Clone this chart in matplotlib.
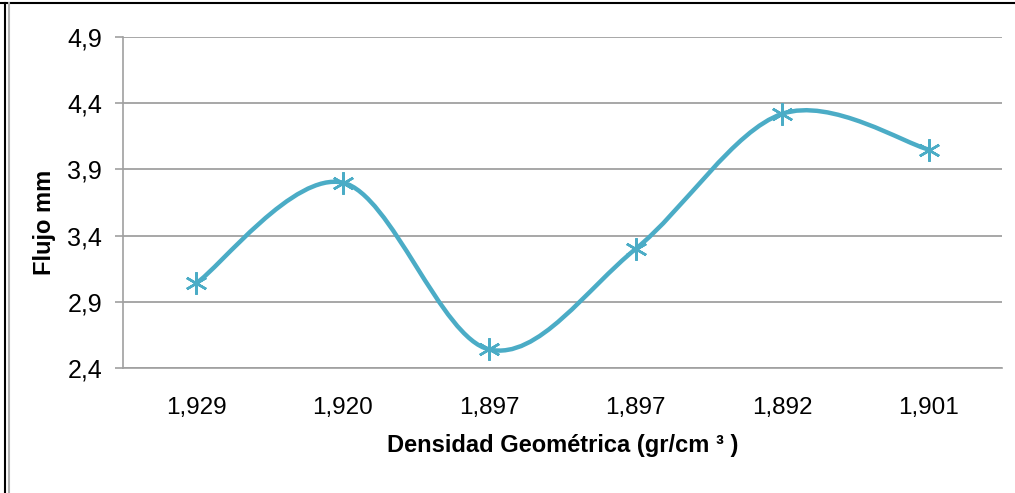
import numpy as np
import matplotlib.pyplot as plt
from matplotlib.path import Path
from matplotlib.patches import PathPatch
from matplotlib.lines import Line2D

# Densidad geometrica (categorias) y flujo medido
densidad = ['1,929', '1,920', '1,897', '1,897', '1,892', '1,901']
flujo = [3.04, 3.80, 2.54, 3.30, 4.32, 4.05]
yticks = [2.4, 2.9, 3.4, 3.9, 4.4, 4.9]
ytick_labels = ['2,4', '2,9', '3,4', '3,9', '4,4', '4,9']

color = '#4BACC6'
plt.rcParams['font.family'] = ['Liberation Sans', 'DejaVu Sans']

fig = plt.figure(figsize=(10.15, 4.93), dpi=100)
ax = fig.add_axes([123/1015, 1-368/493, 879/1015, 331/493])

x = np.arange(len(flujo))
y = np.array(flujo, dtype=float)

# curva suavizada tipo Excel: Bezier cubica entre puntos consecutivos
pts = np.column_stack([x, y])
ext = np.vstack([pts[0], pts, pts[-1]])
verts = [tuple(pts[0])]
codes = [Path.MOVETO]
for i in range(len(pts)-1):
    p0, p1, p2, p3 = ext[i], ext[i+1], ext[i+2], ext[i+3]
    c1 = p1 + (p2 - p0)/6.
    c2 = p2 - (p3 - p1)/6.
    verts += [tuple(c1), tuple(c2), tuple(p2)]
    codes += [Path.CURVE4]*3
ax.add_patch(PathPatch(Path(verts, codes), fill=False, edgecolor=color,
                       lw=3.2, capstyle='round', joinstyle='round', zorder=3))
ax.plot(x, y, ls='none', marker=(6, 2, 0), ms=16, mew=1.8,
        mec=color, mfc=color, zorder=4)

ax.set_xlim(-0.5, len(flujo)-0.5)
ax.set_ylim(2.4, 4.9)
ax.set_yticks(yticks)
ax.set_yticklabels(ytick_labels)
ax.set_xticks(x)
ax.set_xticklabels(densidad)
ax.yaxis.grid(True, color='#a0a0a0', lw=1.3)
ax.set_axisbelow(True)

for s in ['top', 'right']:
    ax.spines[s].set_visible(False)
for s in ['left', 'bottom']:
    ax.spines[s].set_color('#a0a0a0')
    ax.spines[s].set_linewidth(1.2)

ax.tick_params(axis='y', length=6, color='#a0a0a0', width=1.2, pad=9,
               labelsize=18, labelcolor='black')
ax.tick_params(axis='x', length=0, pad=21, labelsize=17.5, labelcolor='black')

ax.set_ylabel('Flujo mm', fontsize=17, fontweight='bold')
ax.yaxis.set_label_coords(-0.076, 0.44)
ax.set_xlabel('Densidad Geométrica (gr/cm ³ )', fontsize=17, fontweight='bold')
ax.xaxis.set_label_coords(0.5, -0.2)

# marco exterior
fig.add_artist(Line2D([0, 1], [1-3/493, 1-3/493], color='black', lw=1.5))
fig.add_artist(Line2D([5/1015, 5/1015], [0, 1-3/493], color='black', lw=1.5))
fig.add_artist(Line2D([8.5/1015, 8.5/1015], [0, 1-3/493], color='#b0b0b0', lw=1.5))

fig.savefig('out.png', dpi=100)
